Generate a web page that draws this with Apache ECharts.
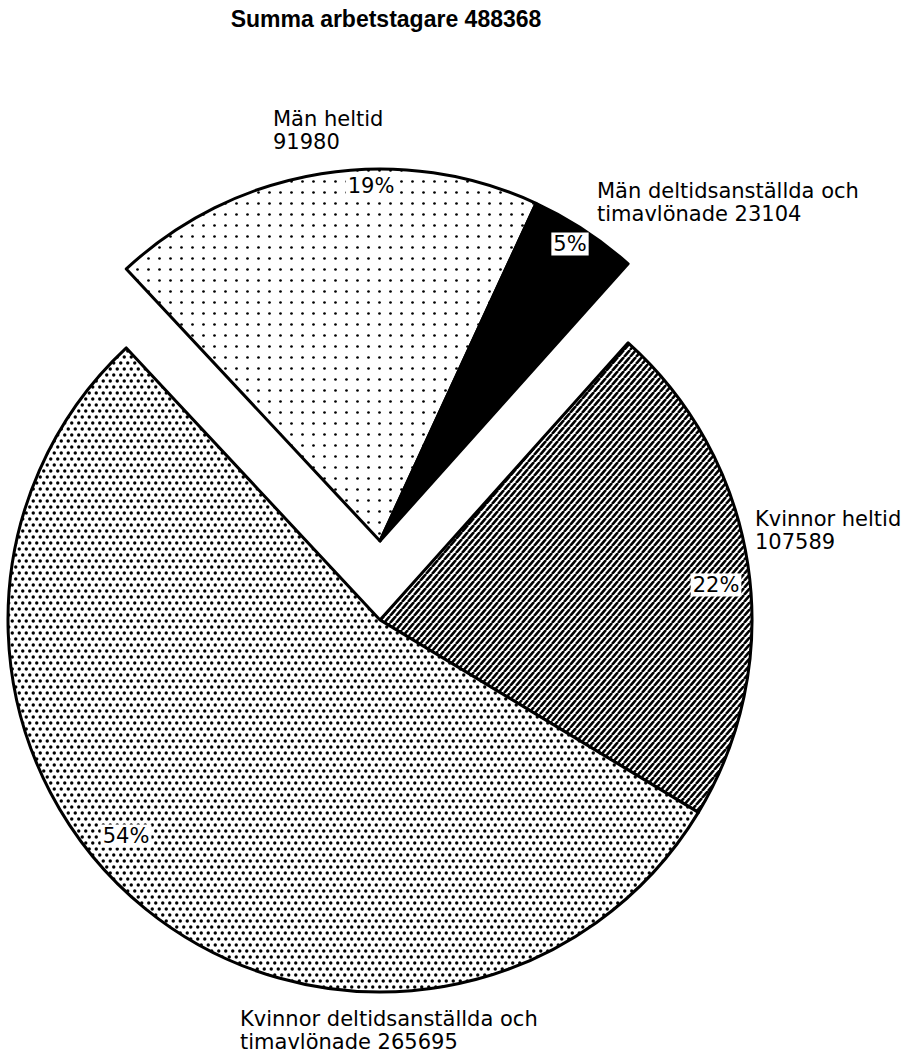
<!DOCTYPE html>
<html>
<head>
<meta charset="utf-8">
<script src="https://cdn.jsdelivr.net/npm/echarts@6/dist/echarts.min.js"></script>
<style>
html,body{margin:0;padding:0;background:#fff;}
#chart{width:910px;height:1056px;}
</style>
</head>
<body>
<div id="chart"></div>
<script>
// ---- data ----
const categories = ['Män heltid', 'Män deltidsanställda och timavlönade', 'Kvinnor heltid', 'Kvinnor deltidsanställda och timavlönade'];
const values = [91980, 23104, 107589, 265695];
const groups = ['män', 'män', 'kvinnor', 'kvinnor'];
const titleText = 'Summa arbetstagare';

// ---- patterns ----
function makeCanvas(w, h, draw) {
  const c = document.createElement('canvas');
  c.width = w; c.height = h;
  const ctx = c.getContext('2d');
  ctx.fillStyle = '#fff'; ctx.fillRect(0, 0, w, h);
  ctx.fillStyle = '#000'; ctx.strokeStyle = '#000';
  draw(ctx);
  return c;
}
const sparseDots = makeCanvas(11, 11, ctx => {
  ctx.beginPath(); ctx.arc(5.5, 5.5, 1.35, 0, Math.PI * 2); ctx.fill();
});
const denseDots = makeCanvas(7, 12, ctx => {
  ctx.beginPath(); ctx.arc(1.75, 3, 1.7, 0, Math.PI * 2); ctx.fill();
  ctx.beginPath(); ctx.arc(5.25, 9, 1.7, 0, Math.PI * 2); ctx.fill();
});
const hatch = makeCanvas(6, 7, ctx => {
  ctx.lineWidth = 2.6;
  for (let x0 = -12; x0 <= 12; x0 += 6) {
    ctx.beginPath(); ctx.moveTo(x0, 7); ctx.lineTo(x0 + 6, 0); ctx.stroke();
  }
});
const fills = [
  { image: sparseDots, repeat: 'repeat' },
  '#000',
  { image: hatch, repeat: 'repeat' },
  { image: denseDots, repeat: 'repeat' }
];

const total = values.reduce((a, b) => a + b, 0);
const pct = values.map(v => Math.round(v / total * 100) + '%');

function seriesFor(group, center) {
  return {
    type: 'pie',
    center: center,
    radius: [0, 372],
    startAngle: 133,
    clockwise: true,
    silent: true,
    z: 2,
    label: { show: false },
    labelLine: { show: false },
    emphasis: { disabled: true },
    data: categories.map((c, i) => ({
      name: c,
      value: values[i],
      itemStyle: groups[i] === group
        ? { color: fills[i], borderColor: '#000', borderWidth: 3 }
        : { color: 'rgba(0,0,0,0)', borderWidth: 0 }
    }))
  };
}

function labelText(i) {
  const n = categories[i].replace(' och ', ' och\n');
  return n.indexOf('\n') >= 0 ? n + ' ' + values[i] : n + '\n' + values[i];
}

const labelFont = '21px "DejaVu Sans"';
const nameLabelPos = [[273, 107], [597, 179], [755, 507], [240, 1007]];
const pctLabelPos = [[371, 186], [570, 244], [716, 585], [126, 836]];

const graphics = [{
  type: 'text', x: 386, y: 19, z: 100,
  style: { text: titleText + ' ' + total, font: 'bold 23px "Liberation Sans"', fill: '#000',
           align: 'center', verticalAlign: 'middle', textAlign: 'center', textVerticalAlign: 'middle' }
}];
categories.forEach((c, i) => {
  graphics.push({
    type: 'text', x: nameLabelPos[i][0], y: nameLabelPos[i][1], z: 100,
    style: { text: labelText(i), font: labelFont, fill: '#000', lineHeight: 23,
             align: 'left', verticalAlign: 'top', textAlign: 'left', textVerticalAlign: 'top' }
  });
  graphics.push({
    type: 'text', x: pctLabelPos[i][0], y: pctLabelPos[i][1], z: 100,
    style: { text: pct[i], font: labelFont, fill: '#000',
             backgroundColor: '#fff', padding: [1, 2, 1, 2],
             align: 'center', verticalAlign: 'middle', textAlign: 'center', textVerticalAlign: 'middle' }
  });
});

const chart = echarts.init(document.getElementById('chart'), null, { renderer: 'svg' });
chart.setOption({
  animation: false,
  backgroundColor: '#fff',
  series: [seriesFor('kvinnor', [380, 620]), seriesFor('män', [380, 541])],
  graphic: { elements: graphics }
});
</script>
</body>
</html>
